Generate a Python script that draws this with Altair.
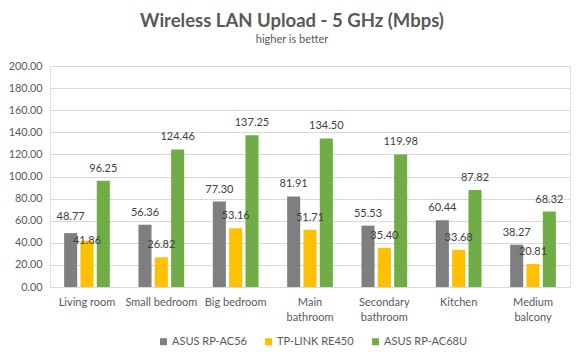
import altair as alt
import pandas as pd

categories = ["Living room", "Small bedroom", "Big bedroom", "Main bathroom",
              "Secondary bathroom", "Kitchen", "Medium balcony"]
tick_labels = [["Living room"], ["Small bedroom"], ["Big bedroom"], ["Main", "bathroom"],
               ["Secondary", "bathroom"], ["Kitchen"], ["Medium", "balcony"]]
series = ["ASUS RP-AC56", "TP-LINK RE450", "ASUS RP-AC68U"]
asus_rp_ac56 = [48.77, 56.36, 77.30, 81.91, 55.53, 60.44, 38.27]
tplink_re450 = [41.86, 26.82, 53.16, 51.71, 35.40, 33.68, 20.81]
asus_rp_ac68u = [96.25, 124.46, 137.25, 134.50, 119.98, 87.82, 68.32]
y_ticks = [0, 20, 40, 60, 80, 100, 120, 140, 160, 180, 200]
colors = ["#7f7f7f", "#ffc000", "#70ad47"]

rows = []
for s, vals in zip(series, [asus_rp_ac56, tplink_re450, asus_rp_ac68u]):
    for c, v in zip(categories, vals):
        rows.append({"room": c, "series": s, "value": v})
df = pd.DataFrame(rows)

# build label expression for multi-line tick labels
expr = "datum.value"
for c, lab in zip(categories, tick_labels):
    if len(lab) > 1:
        arr = "[" + ",".join("'" + p + "'" for p in lab) + "]"
        expr = f"datum.value == '{c}' ? {arr} : ({expr})"

FONT = "Lato"
S0, S1 = series[0], series[1]

base = alt.Chart(df).encode(
    x=alt.X("room:N", sort=categories, title=None,
            scale=alt.Scale(paddingInner=0.385, paddingOuter=0.19),
            axis=alt.Axis(labelExpr=expr, labelAngle=0, ticks=False, tickSize=0,
                          labelPadding=9, labelLineHeight=15, domainColor="#d9d9d9",
                          labelColor="#595959", labelFontSize=11, labelFont=FONT,
                          grid=False)),
    xOffset=alt.XOffset("series:N", sort=series, scale=alt.Scale(paddingInner=0.2)),
)

yscale = alt.Scale(domain=[0, 200], nice=False)
yaxis = alt.Axis(values=y_ticks, format=".2f", domain=False, ticks=False,
                 tickSize=0, labelPadding=8, gridColor="#d9d9d9",
                 labelColor="#595959", labelFontSize=10.8, labelFont=FONT)

bars = base.mark_bar().encode(
    y=alt.Y("value:Q", title=None, scale=yscale, axis=yaxis),
    color=alt.Color("series:N", sort=series,
                    scale=alt.Scale(domain=series, range=colors),
                    legend=alt.Legend(title=None, orient="none", direction="horizontal",
                                      legendX=108, legendY=270, symbolType="square",
                                      symbolSize=49, symbolStrokeWidth=0,
                                      labelFont=FONT, labelFontSize=11,
                                      labelColor="#595959", columnPadding=16,
                                      labelOffset=3))
)

# simple collision avoidance between neighbouring labels (like Excel's placement)
labels = base.transform_calculate(
    g=f"datum.series == '{S0}' ? datum.value : 0",
    t=f"datum.series == '{S1}' ? datum.value : 0",
).transform_joinaggregate(
    gv="max(g)", tv="max(t)", groupby=["room"]
).transform_calculate(
    clash="abs(datum.gv - datum.tv) < 10",
    lv=f"datum.clash ? (datum.series == '{S0}' ? datum.value + 3.6 : "
       f"(datum.series == '{S1}' ? datum.value - 10.9 : datum.value)) : datum.value",
).mark_text(baseline="middle", dy=-12, font=FONT, fontSize=11,
            color="#404040").encode(
    y=alt.Y("lv:Q", title=None, scale=yscale, axis=yaxis),
    text=alt.Text("value:Q", format=".2f"),
)

chart = alt.layer(bars, labels).properties(
    width=520, height=221,
    title=alt.TitleParams("Wireless LAN Upload - 5 GHz (Mbps)", subtitle="higher is better",
                          anchor="middle", dx=-18, font=FONT, fontSize=18.5,
                          fontWeight="bold", color="#595959", subtitleFont=FONT,
                          subtitleFontSize=11, subtitleColor="#595959",
                          subtitlePadding=4, offset=15),
    autosize=alt.AutoSizeParams(type="none"),
    padding={"left": 42, "top": 58, "right": 6, "bottom": 68},
).configure_view(stroke=None).configure(background="white")

chart.save("out.html", embed_options={"renderer": "svg", "actions": False})
